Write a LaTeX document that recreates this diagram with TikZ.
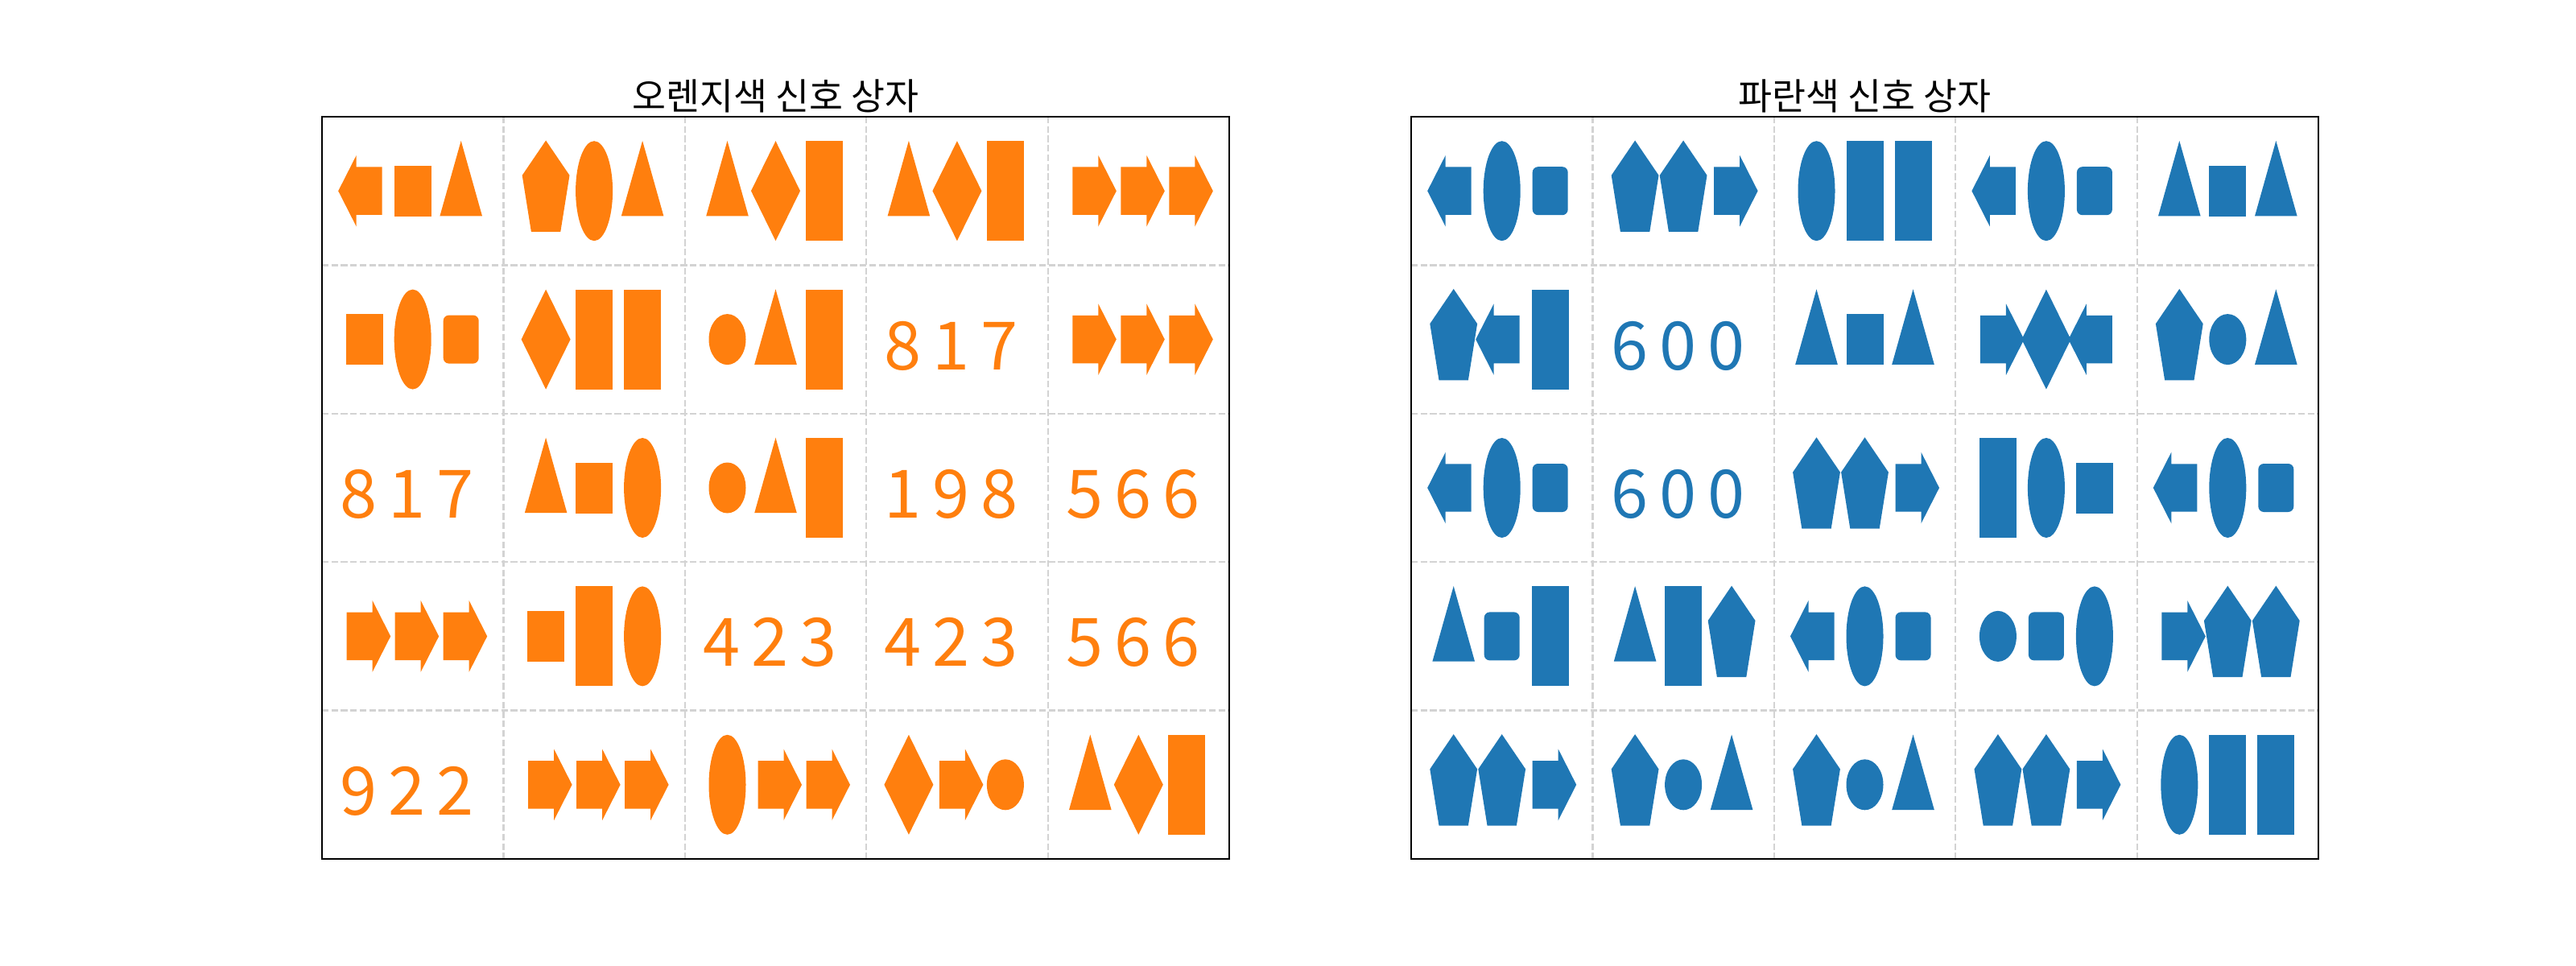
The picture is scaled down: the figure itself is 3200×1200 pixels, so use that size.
\documentclass[tikz,border=0pt]{standalone}
\usepackage{fontspec}
\setmainfont{Noto Sans CJK KR}
\usepackage{tikz}
\definecolor{sigorange}{HTML}{FF7F0E}
\definecolor{sigblue}{HTML}{1F77B4}
\definecolor{gridgray}{HTML}{D3D3D3}
\tikzset{
  sig/.style={fill=black},
  gridline/.style={draw=gridgray,line width=0.8pt,dash pattern=on 2.96pt off 1.28pt},
  boxframe/.style={draw=black,line width=0.8pt},
  boxtitle/.style={anchor=base,inner sep=0pt,font=\fontsize{16.5}{20}\selectfont},
  digit/.style={anchor=base,inner sep=0pt,font=\fontsize{30}{36}\selectfont}
}
% one signal shape, drawn round the origin (y runs downwards)
\newcommand\sigarrowr{\fill[sig] (-22,-29.7) -- (10,-29.7) -- (10,-44.3) -- (32.5,0)
  -- (10,44.3) -- (10,29.7) -- (-22,29.7) -- cycle;}
\newcommand\sigarrowl{\fill[sig] (22,-29.7) -- (-10,-29.7) -- (-10,-44.3) -- (-32.5,0)
  -- (-10,44.3) -- (-10,29.7) -- (22,29.7) -- cycle;}
\newcommand\sigsquare{\fill[sig] (-23,-31.5) rectangle (23,31.5);}
\newcommand\sigbar{\fill[sig] (-23,-62) rectangle (23,62);}
\newcommand\sigoval{\fill[sig] (0,0) ellipse [x radius=23,y radius=62];}
\newcommand\sigdot{\fill[sig] (0,0) ellipse [x radius=23,y radius=31.5];}
\newcommand\sigpill{\fill[sig,rounded corners=2.5pt] (-22,-30) rectangle (22,30);}
\newcommand\sigtri{\fill[sig] (0,-62.3) -- (26.3,31.2) -- (-26.3,31.2) -- cycle;}
\newcommand\sigdiamond{\fill[sig] (0,-62) -- (30.5,0) -- (0,62) -- (-30.5,0) -- cycle;}
\newcommand\sigpenta{\fill[sig] (0,-62.7) -- (29.4,-19.4) -- (18.2,50.7) -- (-18.2,50.7)
  -- (-29.4,-19.4) -- cycle;}
\newcommand\sigshape[3]{\begin{scope}[shift={(#2,#3)}]\csname sig#1\endcsname\end{scope}}
\newcommand\siggrid{%
  \foreach \k in {0,...,5} {
    \draw[gridline] (225.4*\k,0) -- (225.4*\k,922);
    \draw[gridline] (0,184.4*\k) -- (1127,184.4*\k);
  }
  \draw[boxframe] (0,0) rectangle (1127,922);}

\begin{document}
\begin{tikzpicture}[x=0.005in,y=-0.005in]
  \useasboundingbox (0,0) rectangle (3200,1200);

  % orange box
  \begin{scope}[shift={(400,145)},sig/.style={fill=sigorange}]
    \siggrid
    \node[boxtitle] (ttlorange) at (563.5,-8) {오렌지색 신호 상자};
    \foreach \row/\col/\pa/\pb/\pc in {0/0/arrowl/square/tri, 0/1/penta/oval/tri,
        0/2/tri/diamond/bar, 0/3/tri/diamond/bar, 0/4/arrowr/arrowr/arrowr,
        1/0/square/oval/pill, 1/1/diamond/bar/bar, 1/2/dot/tri/bar,
        1/4/arrowr/arrowr/arrowr, 2/1/tri/square/oval, 2/2/dot/tri/bar,
        3/0/arrowr/arrowr/arrowr, 3/1/square/bar/oval, 4/1/arrowr/arrowr/arrowr,
        4/2/oval/arrowr/arrowr, 4/3/diamond/arrowr/dot, 4/4/tri/diamond/bar}
      \foreach \dx/\kind in {-60/\pa,0/\pb,60/\pc}
        \sigshape{\kind}{112.7+225.4*\col+\dx}{92.2+184.4*\row};
    \foreach \row/\col/\pa/\pb/\pc in {1/3/8/1/7, 2/0/8/1/7, 2/3/1/9/8, 2/4/5/6/6,
        3/2/4/2/3, 3/3/4/2/3, 3/4/5/6/6, 4/0/9/2/2}
      \foreach \dx/\kind in {-60/\pa,0/\pb,60/\pc}
        \node[digit,text=sigorange] (n\row\col\dx) at (105.7+225.4*\col+\dx,129.7+184.4*\row) {\kind};
  \end{scope}

  % blue box
  \begin{scope}[shift={(1753,145)},sig/.style={fill=sigblue}]
    \siggrid
    \node[boxtitle] (ttlblue) at (563.5,-8) {파란색 신호 상자};
    \foreach \row/\col/\pa/\pb/\pc in {0/0/arrowl/oval/pill, 0/1/penta/penta/arrowr,
        0/2/oval/bar/bar, 0/3/arrowl/oval/pill, 0/4/tri/square/tri,
        1/0/penta/arrowl/bar, 1/2/tri/square/tri, 1/3/arrowr/diamond/arrowl,
        1/4/penta/dot/tri, 2/0/arrowl/oval/pill, 2/2/penta/penta/arrowr,
        2/3/bar/oval/square, 2/4/arrowl/oval/pill, 3/0/tri/pill/bar,
        3/1/tri/bar/penta, 3/2/arrowl/oval/pill, 3/3/dot/pill/oval,
        3/4/arrowr/penta/penta, 4/0/penta/penta/arrowr, 4/1/penta/dot/tri,
        4/2/penta/dot/tri, 4/3/penta/penta/arrowr, 4/4/oval/bar/bar}
      \foreach \dx/\kind in {-60/\pa,0/\pb,60/\pc}
        \sigshape{\kind}{112.7+225.4*\col+\dx}{92.2+184.4*\row};
    \foreach \row/\col/\pa/\pb/\pc in {1/1/6/0/0, 2/1/6/0/0}
      \foreach \dx/\kind in {-60/\pa,0/\pb,60/\pc}
        \node[digit,text=sigblue] (m\row\col\dx) at (105.7+225.4*\col+\dx,129.7+184.4*\row) {\kind};
  \end{scope}
\end{tikzpicture}
\end{document}
